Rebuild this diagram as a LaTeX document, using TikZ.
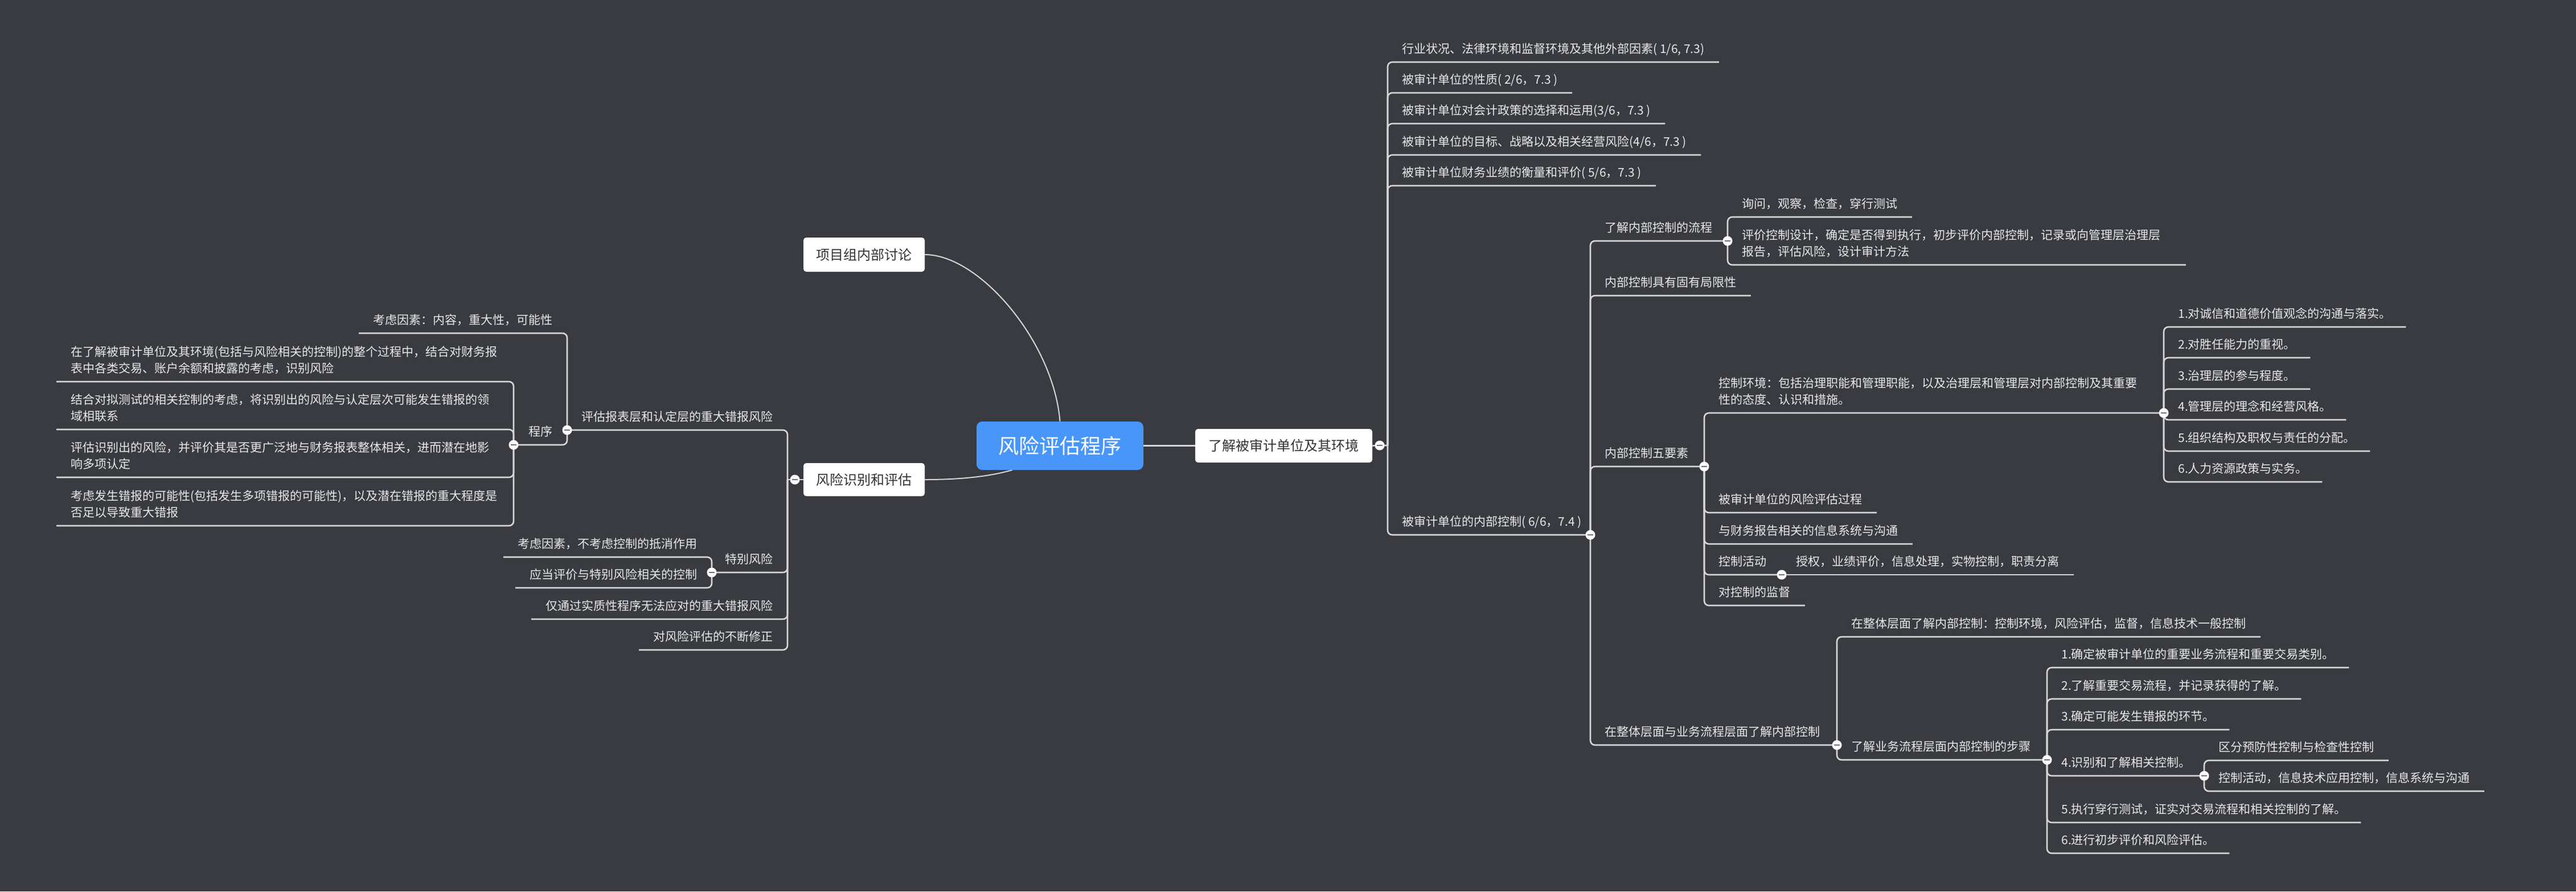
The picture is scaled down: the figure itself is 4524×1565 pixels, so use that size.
\documentclass[tikz,border=0pt]{standalone}
\usepackage{fontspec}
\setmainfont{Noto Sans CJK SC}
\definecolor{bgc}{RGB}{57,59,64}
\definecolor{lnc}{RGB}{214,214,214}
\definecolor{txc}{RGB}{232,232,232}
\definecolor{cblue}{RGB}{72,150,250}
\definecolor{boxtx}{RGB}{51,51,51}
\definecolor{knobm}{RGB}{110,112,116}
\newcommand\fsml{\fontsize{10.5pt}{14.5pt}\selectfont}
\newcommand\fmid{\fontsize{12pt}{14pt}\selectfont}
\newcommand\fbig{\fontsize{18pt}{22pt}\selectfont}
\newcommand\twop[3]{\begin{tabular}[b]{@{}p{#1}@{}}#2\\#3\end{tabular}}
\pgfdeclarelayer{back}
\pgfdeclarelayer{lines}
\pgfsetlayers{back,lines,main}
\tikzset{
  rt/.style={anchor=south west, inner xsep=12.5pt, inner ysep=0pt, text depth=7.5pt, text=txc, font=\fsml},
  lt/.style={rt, anchor=south east},
  br/.style={draw=lnc, line width=1.3pt, rounded corners=4pt},
  cv/.style={draw=lnc, line width=1pt},
  knob/.style={circle, fill=white, minimum size=8.5pt, inner sep=0pt,
    path picture={\draw[knobm, line width=0.9pt] ([xshift=-2.3pt]path picture bounding box.center) -- ([xshift=2.3pt]path picture bounding box.center);}},
  wbox/.style={fill=white, rounded corners=2.5pt, text=boxtx, font=\fmid, inner sep=0pt},
  cbox/.style={fill=cblue, rounded corners=5pt, text=white, font=\fbig, inner sep=0pt, minimum width=146.5pt, minimum height=42.5pt}
}
\begin{document}
\begin{tikzpicture}[x=0.5pt,y=-0.5pt]
\begin{pgfonlayer}{back}
\fill[bgc] (0,0) rectangle (4524,1565);
\end{pgfonlayer}
\useasboundingbox (0,0) rectangle (4524,1565);

% ---------- main boxes ----------
\node[cbox] (c) at (1861.5,782.5) {风险评估程序};
\node[wbox, minimum width=106.5pt, minimum height=30pt] (b1) at (1517.5,447) {项目组内部讨论};
\node[wbox, minimum width=106.5pt, minimum height=29pt] (b2) at (1517.5,842) {风险识别和评估};
\node[wbox, minimum width=155.5pt, minimum height=29.5pt] (b3) at (2254.5,782.5) {了解被审计单位及其环境};
\coordinate (cb) at (1778,825);

% ---------- junctions ----------
\coordinate (j1) at (2423,782);
\coordinate (s1) at (2437,782);
\coordinate (j2) at (2793,939);
\coordinate (j21) at (3034,423);
\coordinate (j23) at (2993,819);
\coordinate (j231) at (3800,725);
\coordinate (j234) at (3129,1009);
\coordinate (j24) at (3226,1308);
\coordinate (j242) at (3595,1334);
\coordinate (j2424) at (3871,1362);
\coordinate (k1) at (1396,842);
\coordinate (t1) at (1383,842);
\coordinate (k11) at (996,755);
\coordinate (k112) at (902,781);
\coordinate (k12) at (1250,1005);

% ---------- right side texts ----------
\node[rt] (r1) at (2437,109) {行业状况、法律环境和监督环境及其他外部因素( 1/6, 7.3)};
\node[rt] (r2) at (2437,163) {被审计单位的性质( 2/6，7.3 )};
\node[rt] (r3) at (2437,217) {被审计单位对会计政策的选择和运用(3/6，7.3 )};
\node[rt] (r4) at (2437,272) {被审计单位的目标、战略以及相关经营风险(4/6，7.3 )};
\node[rt] (r5) at (2437,326) {被审计单位财务业绩的衡量和评价( 5/6，7.3 )};
\node[rt] (r6) at (2437,939) {被审计单位的内部控制( 6/6，7.4 )};

\node[rt] (r61) at (2793,423) {了解内部控制的流程};
\node[rt] (r62) at (2793,519) {内部控制具有固有局限性};
\node[rt] (r63) at (2793,819) {内部控制五要素};
\node[rt] (r64) at (2793,1308) {在整体层面与业务流程层面了解内部控制};

\node[rt] (r611) at (3034,381) {询问，观察，检查，穿行测试};
\node[rt] (r612) at (3034,465) {\twop{377pt}{评价控制设计，确定是否得到执行，初步评价内部控制，记录或向管理层治理层}{报告，评估风险，设计审计方法}};

\node[rt] (r631) at (2993,725) {\twop{378pt}{控制环境：包括治理职能和管理职能，以及治理层和管理层对内部控制及其重要}{性的态度、认识和措施。}};
\node[rt] (r632) at (2993,900) {被审计单位的风险评估过程};
\node[rt] (r633) at (2993,955) {与财务报告相关的信息系统与沟通};
\node[rt] (r634) at (2993,1009) {控制活动};
\node[rt] (r635) at (2993,1063) {对控制的监督};

\node[rt] (e1) at (3800,574) {1.对诚信和道德价值观念的沟通与落实。};
\node[rt] (e2) at (3800,628) {2.对胜任能力的重视。};
\node[rt] (e3) at (3800,683) {3.治理层的参与程度。};
\node[rt] (e4) at (3800,737) {4.管理层的理念和经营风格。};
\node[rt] (e5) at (3800,792) {5.组织结构及职权与责任的分配。};
\node[rt] (e6) at (3800,846) {6.人力资源政策与实务。};

\node[rt] (a1) at (3129,1009) {授权，业绩评价，信息处理，实物控制，职责分离};

\node[rt] (w1) at (3226,1118) {在整体层面了解内部控制：控制环境，风险评估，监督，信息技术一般控制};
\node[rt] (w2) at (3226,1334) {了解业务流程层面内部控制的步骤};

\node[rt] (p1) at (3595,1172) {1.确定被审计单位的重要业务流程和重要交易类别。};
\node[rt] (p2) at (3595,1227) {2.了解重要交易流程，并记录获得的了解。};
\node[rt] (p3) at (3595,1281) {3.确定可能发生错报的环节。};
\node[rt] (p4) at (3595,1362) {4.识别和了解相关控制。};
\node[rt] (p5) at (3595,1444) {5.执行穿行测试，证实对交易流程和相关控制的了解。};
\node[rt] (p6) at (3595,1498) {6.进行初步评价和风险评估。};

\node[rt] (q1) at (3871,1335) {区分预防性控制与检查性控制};
\node[rt] (q2) at (3871,1389) {控制活动，信息技术应用控制，信息系统与沟通};

% ---------- left side texts ----------
\node[lt] (l1) at (1383,755) {评估报表层和认定层的重大错报风险};
\node[lt] (l2) at (1383,1005) {特别风险};
\node[lt] (l3) at (1383,1087) {仅通过实质性程序无法应对的重大错报风险};
\node[lt] (l4) at (1383,1141) {对风险评估的不断修正};

\node[lt] (l11) at (996,585) {考虑因素：内容，重大性，可能性};
\node[lt] (l12) at (996,781) {程序};

\node[lt] (m1) at (902,670) {\twop{376pt}{在了解被审计单位及其环境(包括与风险相关的控制)的整个过程中，结合对财务报}{表中各类交易、账户余额和披露的考虑，识别风险}};
\node[lt] (m2) at (902,754) {\twop{376pt}{结合对拟测试的相关控制的考虑，将识别出的风险与认定层次可能发生错报的领}{域相联系}};
\node[lt] (m3) at (902,838) {\twop{376pt}{评估识别出的风险，并评价其是否更广泛地与财务报表整体相关，进而潜在地影}{响多项认定}};
\node[lt] (m4) at (902,923) {\twop{376pt}{考虑发生错报的可能性(包括发生多项错报的可能性)，以及潜在错报的重大程度是}{否足以导致重大错报}};

\node[lt] (n1) at (1250,978) {考虑因素，不考虑控制的抵消作用};
\node[lt] (n2) at (1250,1032) {应当评价与特别风险相关的控制};

% ---------- connectors ----------
\begin{pgfonlayer}{lines}
\draw[cv] (b1.east) .. controls (1720,447) and (1850,600) .. (c.north);
\draw[cv] (b2.east) .. controls (1690,842) and (1740,836) .. (cb);
\draw[br] (c.east) -- (b3.west);
\draw[br] (b3.east) -- (j1) -- (s1);
\draw[br] (b2.west) -- (k1) -- (t1);

\draw[br] (s1) |- (r1.south east);
\draw[br] (s1) |- (r2.south east);
\draw[br] (s1) |- (r3.south east);
\draw[br] (s1) |- (r4.south east);
\draw[br] (s1) |- (r5.south east);
\draw[br] (s1) |- (j2);

\draw[br] (j2) |- (j21);
\draw[br] (j2) |- (r62.south east);
\draw[br] (j2) |- (j23);
\draw[br] (j2) |- (j24);

\draw[br] (j21) |- (r611.south east);
\draw[br] (j21) |- (r612.south east);

\draw[br] (j23) |- (j231);
\draw[br] (j23) |- (r632.south east);
\draw[br] (j23) |- (r633.south east);
\draw[br] (j23) |- (j234);
\draw[br] (j23) |- (r635.south east);

\draw[br] (j231) |- (e1.south east);
\draw[br] (j231) |- (e2.south east);
\draw[br] (j231) |- (e3.south east);
\draw[br] (j231) |- (e4.south east);
\draw[br] (j231) |- (e5.south east);
\draw[br] (j231) |- (e6.south east);

\draw[br] (j234) -- (a1.south east);

\draw[br] (j24) |- (w1.south east);
\draw[br] (j24) |- (j242);

\draw[br] (j242) |- (p1.south east);
\draw[br] (j242) |- (p2.south east);
\draw[br] (j242) |- (p3.south east);
\draw[br] (j242) |- (j2424);
\draw[br] (j242) |- (p5.south east);
\draw[br] (j242) |- (p6.south east);

\draw[br] (j2424) |- (q1.south east);
\draw[br] (j2424) |- (q2.south east);

\draw[br] (t1) |- (k11);
\draw[br] (t1) |- (k12);
\draw[br] (t1) |- (l3.south west);
\draw[br] (t1) |- (l4.south west);

\draw[br] (k11) |- (l11.south west);
\draw[br] (k11) |- (k112);

\draw[br] (k112) |- (m1.south west);
\draw[br] (k112) |- (m2.south west);
\draw[br] (k112) |- (m3.south west);
\draw[br] (k112) |- (m4.south west);

\draw[br] (k12) |- (n1.south west);
\draw[br] (k12) |- (n2.south west);
\end{pgfonlayer}

% ---------- collapse knobs ----------
\foreach \k in {j1,j2,j21,j23,j231,j234,j24,j242,j2424,k1,k11,k112,k12}
  \node[knob] at (\k) {};
\end{tikzpicture}
\end{document}
